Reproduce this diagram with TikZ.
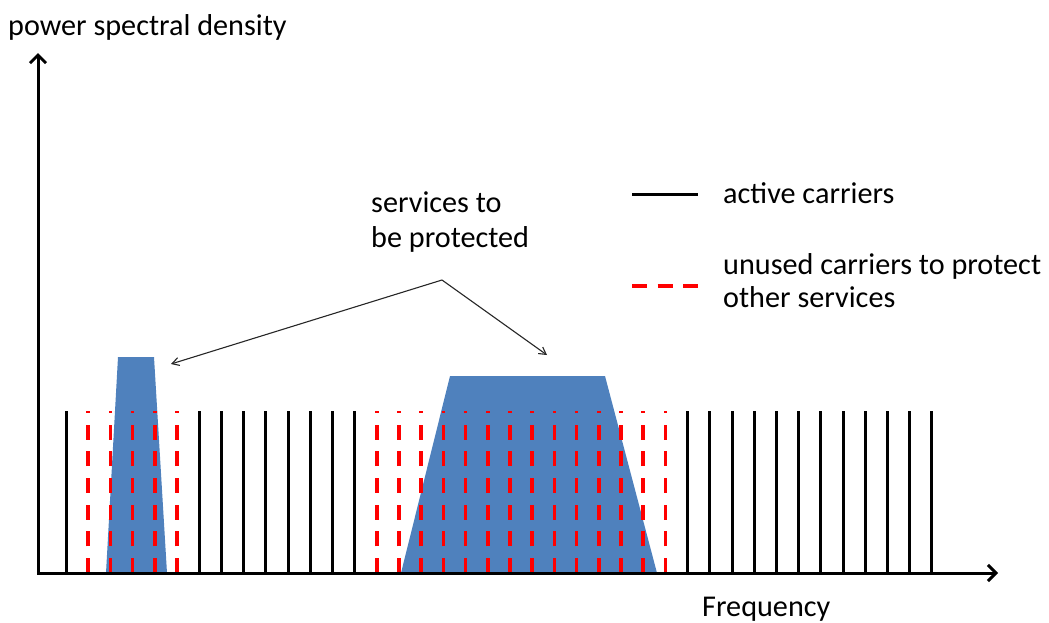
\documentclass[tikz,border=0pt]{standalone}
\usepackage{fontspec}
\setmainfont{Carlito}
\usetikzlibrary{arrows.meta}
\definecolor{svcblue}{RGB}{79,129,189}
\definecolor{carred}{RGB}{255,0,0}
\begin{document}
\begin{tikzpicture}[x=1pt,y=-1pt,
  active/.style={line width=3pt,black},
  unused/.style={line width=3.5pt,carred,dash pattern=on 15pt off 11.7pt},
  service/.style={fill=svcblue,draw=none},
  axis/.style={line width=3pt,line join=miter,{Straight Barb[length=8pt,width=16pt]}-{Straight Barb[length=8pt,width=16pt]}},
  pointer/.style={line width=1.1pt,draw=black!85,-{Straight Barb[length=7pt,width=8pt]}},
  lbl/.style={font=\fontsize{30.2}{36}\selectfont,inner sep=0pt,anchor=base west}]
\useasboundingbox (0,0) rectangle (1049,622);
% services
\fill[service] (106,573) -- (118,357) -- (154,357) -- (167,573) -- cycle;
\fill[service] (401,573) -- (450,376) -- (605,376) -- (657,573) -- cycle;
% carriers
\foreach \i in {0,6,7,8,9,10,11,12,13,28,29,30,31,32,33,34,35,36,37,38,39}
  \draw[active] (66+22.2*\i,573) -- (66+22.2*\i,411);
\foreach \i in {1,2,3,4,5,14,15,16,17,18,19,20,21,22,23,24,25,26,27}
  \draw[unused] (66+22.2*\i,573) -- (66+22.2*\i,411);
% axes
\coordinate (O) at (38,573);
\coordinate (ytip) at (38,53);
\coordinate (xtip) at (998,573);
\draw[axis] (ytip) -- (O) -- (xtip);
% labels
\node[lbl] (ylab) at (8,35) {power spectral density};
\node[lbl] (xlab) at (702,616) {Frequency};
\node[lbl] (svc1) at (371,212) {services to};
\node[lbl] (svc2) at (371,247) {be protected};
% pointers
\coordinate (apex) at (442,280);
\coordinate (smallsvc) at (171,364);
\coordinate (bigsvc) at (547,355);
\draw[pointer] (apex) -- (smallsvc);
\draw[pointer] (apex) -- (bigsvc);
% legend
\coordinate (la1) at (632,194);
\coordinate (la2) at (698,194);
\coordinate (lu1) at (632,286);
\coordinate (lu2) at (698,286);
\draw[active] (la1) -- (la2);
\draw[unused,dash pattern=on 15pt off 10.5pt] (lu1) -- (lu2);
\node[lbl] (leg1) at (723,203) {active carriers};
\node[lbl] (leg2) at (723,274) {unused carriers to protect};
\node[lbl] (leg3) at (723,307) {other services};
\end{tikzpicture}
\end{document}
